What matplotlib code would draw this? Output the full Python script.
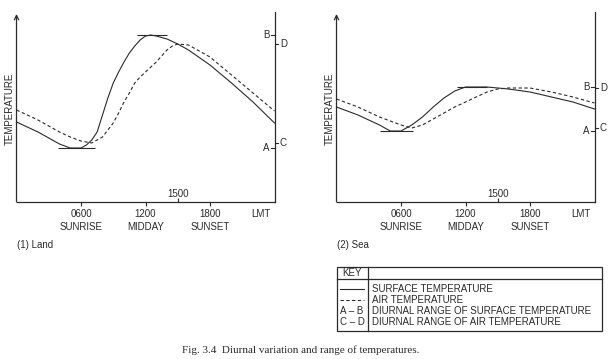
import matplotlib.pyplot as plt
from matplotlib.patches import Rectangle

plt.rcParams['font.family'] = ['Liberation Sans', 'DejaVu Sans']

# hours (LMT) and temperatures (arbitrary units)
hours = [0, 2, 4, 5, 6, 6.5, 7, 7.5, 8, 8.5, 9, 9.5, 10, 10.5, 11, 11.5, 12, 12.5, 13, 14, 15, 16, 18, 20, 22, 24]
land_surface = [80, 70, 58, 54, 54, 57, 62, 70, 87, 104, 119, 130, 140, 149, 156, 162, 166, 167, 166, 163, 158, 152, 137, 119, 100, 79]

air_hours = [0, 2, 4, 5, 6, 7, 8, 8.5, 9, 9.5, 10, 10.5, 11, 11.5, 12, 13, 13.5, 14, 14.5, 15, 16, 18, 20, 22, 24]
land_air = [92, 82, 70, 65, 61, 59, 65, 72, 79, 89, 100, 109, 119, 125, 130, 140, 146, 152, 156, 158, 157, 145, 127, 109, 91]

sea_hours = [0, 2, 4, 5, 6, 7, 8, 9, 10, 11, 12, 13, 14, 15, 16, 18, 20, 22, 24]
sea_surface = [95, 87, 77, 71, 71, 77, 85, 95, 104, 111, 115, 115, 115, 114, 113, 110, 105, 100, 93]
sea_air_hours = [0, 2, 4, 6, 7, 8, 9, 10, 11, 12, 13, 14, 15, 16, 18, 20, 22, 24]
sea_air = [103, 95, 85, 77, 74, 77, 83, 89, 95, 100, 105, 110, 113, 114, 114, 110, 105, 99]

tick_hours = [6, 12, 18]
tick_times = ['0600', '1200', '1800']
tick_names = ['SUNRISE', 'MIDDAY', 'SUNSET']

# min / max marker bars (start hour, end hour)
land_bars = [(3.9, 7.3), (11.2, 14.0)]
sea_bars = [(4.0, 7.1), (11.2, 14.0)]

key_rows = ['SURFACE TEMPERATURE', 'AIR TEMPERATURE',
            'DIURNAL RANGE OF SURFACE TEMPERATURE', 'DIURNAL RANGE OF AIR TEMPERATURE']

ink = '#2a2a2a'
W, H = 612, 359
fig = plt.figure(figsize=(W / 100, H / 100), dpi=100)


def panel(left_px, x_surf, surf, x_air, air, bars, label):
    ax = fig.add_axes([left_px / W, (H - 202) / H, 258 / W, 190 / H])
    ax.set_xlim(0, 24)
    ax.set_ylim(0, 190)
    for s in ['left', 'right', 'top']:
        ax.spines[s].set_visible(False)
    ax.spines['bottom'].set_color(ink)
    ax.spines['bottom'].set_linewidth(0.9)
    ax.set_xticks(tick_hours)
    ax.set_xticklabels([])
    ax.set_xticks([15], minor=True)
    ax.tick_params(axis='x', which='major', direction='out', length=3, color=ink, width=0.8)
    ax.tick_params(axis='x', which='minor', direction='in', length=3, color=ink, width=0.8)
    ax.set_yticks([])

    # axes lines
    ax.annotate('', xy=(0, 188), xytext=(0, 0), annotation_clip=False,
                arrowprops=dict(arrowstyle='->', color=ink, lw=0.9,
                                mutation_scale=8, shrinkA=0, shrinkB=0))
    ax.plot([24, 24], [0, 190], color=ink, lw=0.9, clip_on=False)

    ax.plot(x_surf, surf, color=ink, lw=0.8, clip_on=False)
    ax.plot(x_air, air, color=ink, lw=0.8, ls=(0, (3, 2.2)), clip_on=False)

    # min/max bars
    ax.hlines([min(surf), max(surf)], [bars[0][0], bars[1][0]], [bars[0][1], bars[1][1]],
              color=ink, lw=0.8)

    # range marks on right axis
    fs = 7
    A, B = min(surf), max(surf)
    C, D = min(air), max(air)
    for val, txt in [(A, 'A'), (B, 'B')]:
        ax.plot([23.65, 24], [val, val], color=ink, lw=0.8, clip_on=False)
        ax.text(23.5, val, txt, ha='right', va='center', fontsize=fs, color=ink)
    for val, txt in [(C, 'C'), (D, 'D')]:
        ax.plot([24, 24.35], [val, val], color=ink, lw=0.8, clip_on=False)
        ax.text(24.5, val, txt, ha='left', va='center', fontsize=fs, color=ink)

    ax.text(-0.6, 93, 'TEMPERATURE', rotation=90, ha='center', va='center', fontsize=fs, color=ink)
    for h, t, n in zip(tick_hours, tick_times, tick_names):
        ax.text(h, -12, t, ha='center', va='center', fontsize=fs, color=ink)
        ax.text(h, -25, n, ha='center', va='center', fontsize=fs, color=ink)
    ax.text(22.7, -12, 'LMT', ha='center', va='center', fontsize=fs, color=ink)
    ax.text(15, 8, '1500', ha='center', va='center', fontsize=fs, color=ink)
    fig.text((left_px + 0.5) / W, 1 - 245 / H, label, ha='left', va='center', fontsize=7, color=ink)
    return ax


panel(16.5, hours, land_surface, air_hours, land_air, land_bars, '(1) Land')
panel(336.5, sea_hours, sea_surface, sea_air_hours, sea_air, sea_bars, '(2) Sea')

# key box
kx = fig.add_axes([336 / W, (H - 331) / H, 266 / W, 65 / H])
kx.set_xlim(336, 602)
kx.set_ylim(331, 266)
kx.axis('off')
kx.add_patch(Rectangle((336.5, 266.5), 265, 64, fill=False, ec=ink, lw=0.9, clip_on=False))
kx.plot([336.5, 601.5], [279, 279], color=ink, lw=0.9, clip_on=False)
kx.plot([368, 368], [266.5, 330.5], color=ink, lw=0.9, clip_on=False)
kx.text(352, 273, 'KEY', ha='center', va='center', fontsize=7, color=ink)
row_y = [289, 300, 311, 322]
kx.plot([340, 364], [row_y[0], row_y[0]], color=ink, lw=0.8)
kx.plot([340, 364], [row_y[1], row_y[1]], color=ink, lw=0.8, ls=(0, (3, 2.2)))
kx.text(352, row_y[2], 'A – B', ha='center', va='center', fontsize=7, color=ink)
kx.text(352, row_y[3], 'C – D', ha='center', va='center', fontsize=7, color=ink)
for y, t in zip(row_y, key_rows):
    kx.text(372, y, t, ha='left', va='center', fontsize=7, color=ink)

fig.text(301 / W, 1 - 350 / H, 'Fig. 3.4  Diurnal variation and range of temperatures.',
         ha='center', va='center', fontsize=8, color=ink, family='Liberation Serif')

fig.savefig('out.png', dpi=100)
